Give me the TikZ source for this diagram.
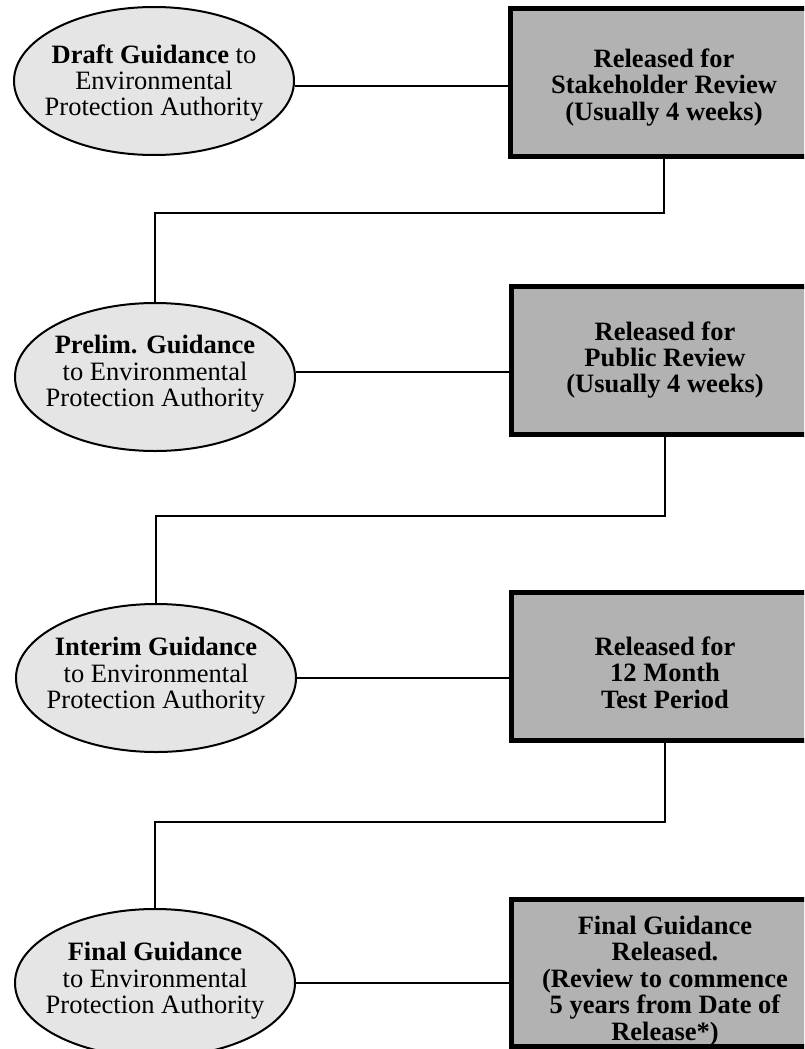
\documentclass[tikz,border=0pt]{standalone}
\usepackage{fontspec}
\setmainfont{Liberation Serif}
\usetikzlibrary{shapes.geometric,calc}
\definecolor{ellfill}{gray}{0.9}
\definecolor{boxfill}{gray}{0.70}
\begin{document}
\begin{tikzpicture}[x=1pt,y=-1pt,
  ell/.style={ellipse, draw, line width=2pt, fill=ellfill, minimum width=280pt, minimum height=148pt, inner sep=0pt},
  etxt/.style={align=center, font=\fontsize{26.5}{26.4}\selectfont, inner sep=0pt},
  rbox/.style={rectangle, draw, line width=5pt, fill=boxfill, minimum width=307pt, minimum height=148pt, inner sep=0pt},
  btxt/.style={align=center, font=\fontsize{26.5}{26.4}\selectfont\bfseries, inner sep=0pt},
  conn/.style={line width=2pt}]
\useasboundingbox (0,0) rectangle (804,1049);
\fill[white] (0,0) rectangle (804,1049);
\clip (0,0) rectangle (804,1049);

\coordinate (h1) at (0,213);
\coordinate (h2) at (0,516);
\coordinate (h3) at (0,822);

\node[ell] (e1) at (154,81) {};
\node[ell] (e2) at (155,377) {};
\node[ell] (e3) at (156,678) {};
\node[ell] (e4) at (155,983) {};

\node[rbox] (b1) at (664,82.5) {};
\node[rbox] (b2) at (665,360) {};
\node[rbox] (b3) at (665,666.5) {};
\node[rbox, minimum height=147pt] (b4) at (665,973) {};

\draw[conn] ([yshift=-5pt]e1.east) -- ([yshift=-5pt]e1.east -| b1.west);
\draw[conn] ([yshift=5pt]e2.east) -- ([yshift=5pt]e2.east -| b2.west);
\draw[conn] (e3.east) -- (e3.east -| b3.west);
\draw[conn] (e4.east) -- (e4.east -| b4.west);

\draw[conn] (b1.south) |- (h1 -| e2.north) -- (e2.north);
\draw[conn] (b2.south) |- (h2 -| e3.north) -- (e3.north);
\draw[conn] (b3.south) |- (h3 -| e4.north) -- (e4.north);

\node[etxt] (t1) at ([yshift=-2pt]e1.center) {\textbf{Draft Guidance} to\\Environmental\\Protection Authority};
\node[etxt] (t2) at ([yshift=3pt]e2.center) {\textbf{Prelim. Guidance}\\ to Environmental\\Protection Authority};
\node[etxt] (t3) at ([yshift=2pt]e3.center) {\textbf{Interim Guidance}\\to Environmental\\Protection Authority};
\node[etxt] (t4) at ([yshift=2pt]e4.center) {\textbf{Final Guidance}\\ to Environmental\\Protection Authority};

\node[btxt] (s1) at ([yshift=-5pt]b1.center) {Released for\\Stakeholder Review\\(Usually 4 weeks)};
\node[btxt] (s2) at (b2.center) {Released for\\Public Review\\(Usually 4 weeks)};
\node[btxt] (s3) at ([yshift=-6pt]b3.center) {Released for\\12 Month\\Test Period};
\node[btxt] (s4) at ([yshift=-8pt]b4.center) {Final Guidance\\Released.\\(Review to commence\\5 years from Date of\\Release*)};
\end{tikzpicture}
\end{document}
